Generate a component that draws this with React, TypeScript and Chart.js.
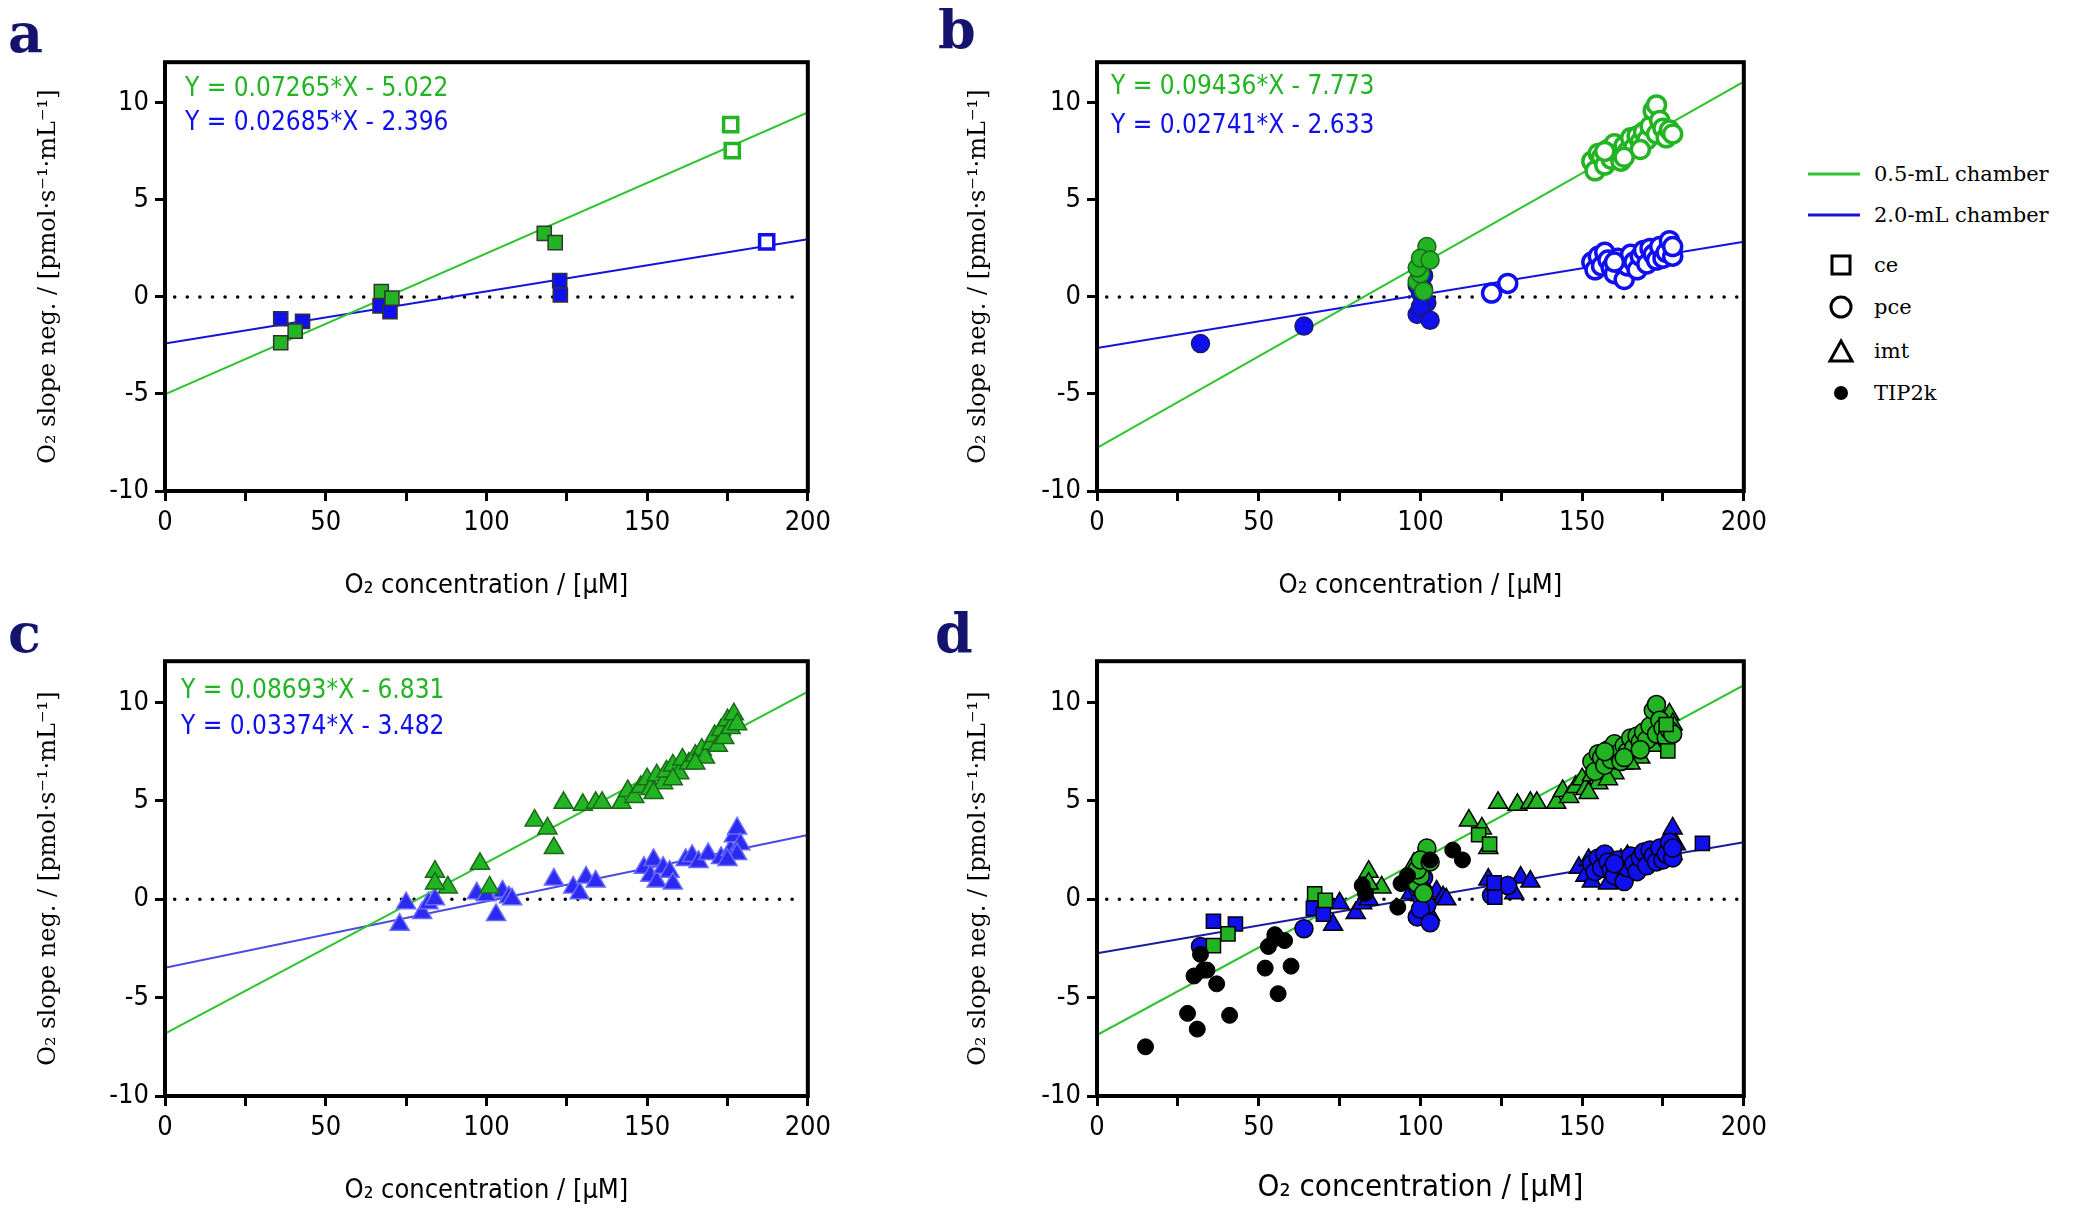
import React, { useEffect, useRef } from "react";
import { Chart, registerables } from "chart.js";
Chart.register(...registerables);

const GREEN_LINE = "#2fc42f";
const BLUE_LINE = "#1414d8";
const GREEN_FILL = "#22b422";
const BLUE_FILL = "#1010ee";
const COND = "'Liberation Sans Narrow', 'DejaVu Sans Condensed', 'Roboto', sans-serif";
const SERIF = "'DejaVu Serif', 'Liberation Serif', serif";

const xTicks = [0, 25, 50, 75, 100, 125, 150, 175, 200];
const yTicks = [-10, -5, 0, 5, 10];

// panel a (ce)
const aGreenFilled = [[36, -2.36], [40.5, -1.76], [67.3, 0.28], [70.6, -0.06], [118, 3.28], [121.4, 2.8]];
const aGreenHollow = [[176, 8.88], [176.5, 7.54]];
const aBlueFilled = [[36, -1.12], [42.8, -1.26], [66.9, -0.46], [70, -0.76], [122.8, 0.84], [123, 0.1]];
const aBlueHollow = [[187.2, 2.84]];
// panel b (pce)
const bGreenFilled = [[99, 0.8], [100, 1.2], [100, 1.8], [101, 2.1], [102, 2.6], [101, 0.3], [99, 1.5], [100, 2.0], [103, 1.9]];
const bGreenHollow = [[153, 7.0], [154, 6.5], [155, 7.4], [156, 7.2], [157, 6.8], [158, 7.6], [159, 7.1], [160, 7.9], [161, 7.4], [162, 7.0], [163, 7.8], [164, 7.5], [165, 8.2], [166, 7.7], [167, 8.3], [168, 8.0], [169, 8.5], [170, 8.1], [171, 8.8], [172, 9.6], [173, 9.9], [173, 8.4], [174, 9.1], [175, 8.7], [176, 8.2], [177, 8.6], [178, 8.4], [157, 7.5], [163, 7.2], [168, 7.6]];
const bBlueFilled = [[32, -2.4], [64, -1.5], [99, -0.9], [100, 0.2], [100, 0.9], [101, 1.1], [102, -0.3], [100, -0.5], [103, -1.2], [99, 0.6], [101, 0.4]];
const bBlueHollow = [[122, 0.2], [127, 0.7], [153, 1.8], [154, 1.4], [155, 2.1], [156, 1.6], [157, 2.3], [158, 1.9], [159, 1.5], [160, 1.2], [161, 2.0], [162, 1.7], [163, 0.9], [164, 1.6], [165, 2.2], [166, 1.8], [167, 1.4], [168, 2.1], [169, 2.4], [170, 1.7], [171, 2.5], [172, 2.2], [173, 1.9], [174, 2.6], [175, 2.0], [176, 2.3], [177, 2.9], [178, 2.1], [178, 2.6], [160, 1.8]];
// panel c (imt)
const cGreen = [[84, 1.4], [88, 0.6], [84, 0.8], [98, 1.8], [101, 0.6], [115, 4.0], [119, 3.6], [121, 2.6], [124, 4.9], [130, 4.8], [134, 4.9], [136, 4.9], [142, 4.9], [144, 5.5], [146, 5.2], [148, 5.7], [150, 6.1], [151, 5.6], [153, 6.3], [155, 5.9], [156, 6.5], [158, 6.8], [160, 6.4], [161, 7.1], [163, 6.9], [165, 7.3], [167, 7.6], [168, 7.2], [170, 7.9], [171, 8.3], [172, 7.8], [173, 8.6], [174, 8.2], [175, 9.1], [176, 8.7], [177, 9.4], [178, 8.9], [152, 5.4], [158, 6.1], [165, 6.9]];
const cBlue = [[73, -1.3], [75, -0.2], [80, -0.7], [82, -0.2], [84, 0.0], [97, 0.3], [100, 0.2], [103, -0.8], [105, 0.4], [107, 0.1], [108, 0.0], [121, 1.0], [127, 0.6], [129, 0.3], [131, 1.1], [134, 0.9], [149, 1.6], [151, 1.2], [152, 2.0], [153, 0.9], [155, 1.6], [157, 1.4], [158, 0.8], [162, 2.0], [164, 2.2], [166, 1.9], [169, 2.3], [173, 2.1], [176, 2.5], [177, 3.2], [178, 3.6], [179, 2.8], [178, 2.3], [175, 2.0]];
// panel d extra (TIP2k)
const dTip = [[15, -7.5], [28, -5.8], [31, -6.6], [30, -3.9], [32, -2.8], [33, -3.6], [34, -3.6], [37, -4.3], [41, -5.9], [52, -3.5], [53, -2.4], [55, -1.8], [56, -4.8], [58, -2.1], [60, -3.4], [55, -2.0], [83, 0.3], [82, 0.7], [93, -0.4], [94, 0.8], [103, 2.0], [110, 2.5], [113, 2.0], [96, 1.2]];

// fits [slope, intercept]
const fitA = { g: [0.07265, -5.022], b: [0.02685, -2.396] };
const fitB = { g: [0.09436, -7.773], b: [0.02741, -2.633] };
const fitC = { g: [0.08693, -6.831], b: [0.03374, -3.482] };
const fitD = { g: [0.0889, -6.9], b: [0.02825, -2.75] };

const pts = (arr: number[][]) => arr.map(([x, y]) => ({ x, y }));
const fitLine = (f: number[], color: string) => ({
  type: "line", data: [0, 200].map((x) => ({ x, y: f[0] * x + f[1] })),
  borderColor: color, borderWidth: 2, pointRadius: 0, showLine: true, order: 10, fill: false,
});
const zeroLine = () => ({
  type: "line", data: [{ x: 3, y: 0 }, { x: 198, y: 0 }], borderColor: "#000", borderWidth: 3.5,
  borderDash: [0.1, 12.5], borderCapStyle: "round", pointRadius: 0, showLine: true, order: 11, fill: false,
});
const sc = (arr: number[][], style: string, bg: string, border: string, bw: number, r: number) => ({
  type: "scatter", data: pts(arr), pointStyle: style, backgroundColor: bg, borderColor: border,
  pointBorderWidth: bw, pointRadius: r, order: 1,
});

const boxPlugin = {
  id: "box",
  afterDraw(chart: any) {
    const { ctx, chartArea: a } = chart;
    ctx.save(); ctx.strokeStyle = "#000"; ctx.lineWidth = 4;
    ctx.strokeRect(a.left, a.top, a.right - a.left, a.bottom - a.top); ctx.restore();
  },
};

function Panel({ left, top, w, h, yw, datasets, xTitleSize = 27 }: any) {
  const ref = useRef<HTMLCanvasElement>(null);
  useEffect(() => {
    const chart = new Chart(ref.current!, {
      type: "scatter",
      data: { datasets },
      plugins: [boxPlugin],
      options: {
        animation: false, responsive: true, maintainAspectRatio: false,
        layout: { padding: { top: 20, right: 20 } },
        plugins: { legend: { display: false }, tooltip: { enabled: false } },
        scales: {
          x: {
            type: "linear", min: 0, max: 200,
            afterBuildTicks: (s: any) => { s.ticks = xTicks.map((v) => ({ value: v })); },
            afterFit: (s: any) => { s.height = 115; },
            grid: { drawOnChartArea: false, tickLength: 10, tickWidth: 3, tickColor: "#000" },
            border: { display: false },
            ticks: { color: "#000", font: { family: COND, size: 27 }, padding: 6, maxRotation: 0,
              callback: (v: any) => (v % 50 === 0 ? String(v) : "") },
            title: { display: true, text: "O₂ concentration / [μM]", color: "#000",
              font: { family: COND, size: xTitleSize }, padding: { top: 14 } },
          },
          y: {
            type: "linear", min: -10, max: 12.1,
            afterBuildTicks: (s: any) => { s.ticks = yTicks.map((v) => ({ value: v })); },
            afterFit: (s: any) => { s.width = yw; },
            grid: { drawOnChartArea: false, tickLength: 10, tickWidth: 3, tickColor: "#000" },
            border: { display: false },
            ticks: { color: "#000", font: { family: COND, size: 27 }, padding: 6 },
            title: { display: true, text: "O₂ slope neg. / [pmol·s⁻¹·mL⁻¹]", color: "#000",
              font: { family: SERIF, size: 24 }, padding: { bottom: 8 } },
          },
        },
      } as any,
    });
    return () => chart.destroy();
  }, []);
  return (
    <div style={{ position: "absolute", left, top, width: w, height: h }}>
      <canvas ref={ref} />
    </div>
  );
}

const eq = (f: number[]) => `Y = ${f[0].toFixed(5)}*X - ${Math.abs(f[1]).toFixed(3)}`;

const Label = ({ t, x, y }: any) => (
  <div style={{ position: "absolute", left: x, top: y, fontFamily: SERIF, fontWeight: "bold", fontSize: 54, color: "#14146e", lineHeight: 1 }}>{t}</div>
);
const Eq = ({ f, x, y, color }: any) => (
  <div style={{ position: "absolute", left: x, top: y, fontFamily: COND, fontSize: 26, color, lineHeight: 1, whiteSpace: "nowrap" }}>{eq(f)}</div>
);

const Marker = ({ kind }: any) => (
  <svg width="30" height="30" viewBox="0 0 30 30">
    {kind === "sq" && <rect x="6" y="6" width="18" height="18" fill="none" stroke="#000" strokeWidth="3" />}
    {kind === "ci" && <circle cx="15" cy="15" r="10" fill="none" stroke="#000" strokeWidth="3" />}
    {kind === "tr" && <polygon points="15,5 26,25 4,25" fill="none" stroke="#000" strokeWidth="3" />}
    {kind === "dot" && <circle cx="15" cy="15" r="7" fill="#000" />}
  </svg>
);

const legendItems = [
  { k: "g", t: "0.5-mL chamber", y: 166, wide: true },
  { k: "b", t: "2.0-mL chamber", y: 207, wide: true },
  { k: "sq", t: "ce", y: 257 },
  { k: "ci", t: "pce", y: 299 },
  { k: "tr", t: "imt", y: 343 },
  { k: "dot", t: "TIP2k", y: 385 },
];

export default function App() {
  const dk = "#000";
  const dsA = [zeroLine(), fitLine(fitA.g, GREEN_LINE), fitLine(fitA.b, BLUE_LINE),
    sc(aGreenFilled, "rect", GREEN_FILL, "#333", 1.5, 10), sc(aGreenHollow, "rect", "#fff", GREEN_FILL, 3.5, 10),
    sc(aBlueFilled, "rect", BLUE_FILL, "#333", 1.5, 10), sc(aBlueHollow, "rect", "#fff", BLUE_FILL, 3.5, 10)];
  const dsB = [zeroLine(), fitLine(fitB.g, GREEN_LINE), fitLine(fitB.b, BLUE_LINE),
    sc(bGreenFilled, "circle", GREEN_FILL, "#1a6a1a", 1.5, 9), sc(bGreenHollow, "circle", "#fff", GREEN_FILL, 3.5, 9),
    sc(bBlueFilled, "circle", BLUE_FILL, "#1a1a6a", 1.5, 9), sc(bBlueHollow, "circle", "#fff", BLUE_FILL, 3.5, 9)];
  const dsC = [zeroLine(), fitLine(fitC.g, GREEN_LINE), fitLine(fitC.b, "#4a4ae0"),
    sc(cGreen, "triangle", GREEN_FILL, "#1a6a1a", 1.5, 11), sc(cBlue, "triangle", "#2a2af0", "#6a6aff", 1.5, 11)];
  const dsD = [zeroLine(), fitLine(fitD.g, GREEN_LINE), fitLine(fitD.b, "#1a1aa0"),
    sc(dTip, "circle", "#000", "#000", 1, 8),
    sc([...aGreenFilled, ...aGreenHollow], "rect", GREEN_FILL, dk, 1.5, 10),
    sc([...bGreenFilled, ...bGreenHollow], "circle", GREEN_FILL, dk, 1.5, 9),
    sc(cGreen, "triangle", GREEN_FILL, dk, 1.5, 11),
    sc([...aBlueFilled, ...aBlueHollow], "rect", BLUE_FILL, dk, 1.5, 10),
    sc([...bBlueFilled, ...bBlueHollow], "circle", BLUE_FILL, dk, 1.5, 9),
    sc(cBlue, "triangle", BLUE_FILL, dk, 1.5, 11)];
  return (
    <div style={{ position: "relative", width: 2059, height: 1198, background: "#fff", overflow: "hidden" }}>
      <Panel left={22} top={32} w={807} h={566} yw={135} datasets={dsA} />
      <Panel left={952} top={32} w={813} h={566} yw={137} datasets={dsB} />
      <Panel left={22} top={631} w={807} h={572} yw={135} datasets={dsC} />
      <Panel left={952} top={631} w={813} h={572} yw={137} datasets={dsD} xTitleSize={31} />
      <Label t="a" x={0} y={-2} />
      <Label t="b" x={930} y={-6} />
      <Label t="c" x={0} y={598} />
      <Label t="d" x={927} y={598} />
      <Eq f={fitA.g} x={177} y={66} color={GREEN_FILL} />
      <Eq f={fitA.b} x={177} y={100} color={BLUE_FILL} />
      <Eq f={fitB.g} x={1103} y={64} color={GREEN_FILL} />
      <Eq f={fitB.b} x={1103} y={103} color={BLUE_FILL} />
      <Eq f={fitC.g} x={173} y={668} color={GREEN_FILL} />
      <Eq f={fitC.b} x={173} y={704} color={BLUE_FILL} />
      {legendItems.map((it) => (
        <div key={it.t} style={{ position: "absolute", left: it.wide ? 1800 : 1818, top: it.y - 15, display: "flex", alignItems: "center", height: 30, fontFamily: SERIF, fontSize: 21, whiteSpace: "nowrap" }}>
          {it.wide ? <svg width="52" height="30"><line x1="0" y1="15" x2="52" y2="15" stroke={it.k === "g" ? GREEN_LINE : BLUE_LINE} strokeWidth="3" /></svg> : <Marker kind={it.k} />}
          <span style={{ marginLeft: it.wide ? 14 : 18 }}>{it.t}</span>
        </div>
      ))}
    </div>
  );
}
